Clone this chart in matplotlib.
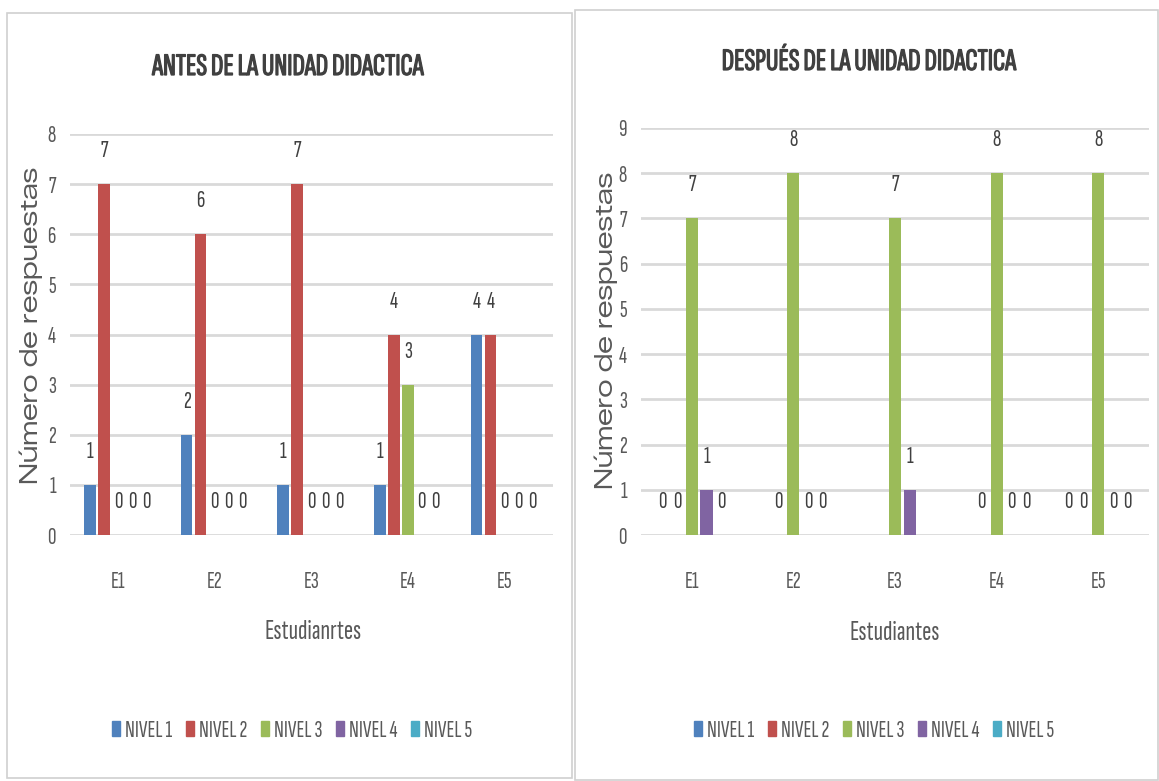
import numpy as np
import matplotlib
matplotlib.use("Agg")
from matplotlib import pyplot as plt
from matplotlib.patches import Rectangle, Patch
from matplotlib import patheffects

NARROW = ['Sofia Sans Extra Condensed', 'DejaVu Sans']
WIDE = ['Zalando Sans Expanded', 'DejaVu Sans']
plt.rcParams['font.family'] = NARROW

estudiantes = ['E1', 'E2', 'E3', 'E4', 'E5']
niveles = ['NIVEL 1', 'NIVEL 2', 'NIVEL 3', 'NIVEL 4', 'NIVEL 5']
colores = ['#4F81BD', '#C0504D', '#9BBB59', '#8064A2', '#4BACC6']

# antes de la unidad
antes_n1 = [1, 2, 1, 1, 4]
antes_n2 = [7, 6, 7, 4, 4]
antes_n3 = [0, 0, 0, 3, 0]
antes_n4 = [0, 0, 0, 0, 0]
antes_n5 = [0, 0, 0, 0, 0]

# despues de la unidad (nan = celda vacia, sin etiqueta)
nan = np.nan
despues_n1 = [0, nan, nan, nan, 0]
despues_n2 = [0, 0, nan, 0, 0]
despues_n3 = [7, 8, 7, 8, 8]
despues_n4 = [1, 0, 1, 0, 0]
despues_n5 = [0, 0, nan, 0, 0]

W, H = 1159, 781
fig = plt.figure(figsize=(W / 100, H / 100), dpi=100)

GRIS = '#595959'
OSCURO = '#404040'
GRID = '#D9D9D9'


def px(x, y):
    return x / W, 1 - y / H


# marcos de los dos graficos
for x0, y0, x1, y1 in [(7, 13, 572, 778), (575, 10, 1158, 780)]:
    fig.add_artist(Rectangle((x0 / W, 1 - y1 / H), (x1 - x0) / W, (y1 - y0) / H,
                             transform=fig.transFigure, fill=False,
                             edgecolor='#D0D0D0', linewidth=1.2))


def grafico(rect, series, ymax, titulo, tpos, xlabel, xlpos, ylpos, legpos):
    ax = fig.add_axes(rect)
    x = np.arange(len(estudiantes))
    paso = 0.145
    ancho = 0.12
    for i, vals in enumerate(series):
        vals = np.array(vals, dtype=float)
        pos = x + (i - 2) * paso
        ax.bar(pos, np.nan_to_num(vals), width=ancho, color=colores[i],
               label=niveles[i], zorder=3)
        for xp, v in zip(pos, vals):
            if np.isnan(v):
                continue
            ax.annotate('%d' % v, (xp, v), xytext=(0, 33),
                        textcoords='offset pixels', ha='center', va='center',
                        fontsize=17, color=OSCURO)
    ax.set_xlim(-0.5, len(estudiantes) - 0.5)
    ax.set_ylim(0, ymax)
    ax.set_yticks(range(ymax + 1))
    ax.set_xticks(x)
    ax.set_xticklabels(estudiantes)
    ax.yaxis.grid(True, color=GRID, linewidth=2, zorder=0)
    ax.set_axisbelow(True)
    for s in ax.spines.values():
        s.set_visible(False)
    ax.tick_params(axis='both', length=0, labelsize=17, colors=GRIS)
    ax.tick_params(axis='y', pad=10)
    ax.tick_params(axis='x', pad=26)

    fig.text(*px(*tpos), titulo, ha='center', va='center', fontsize=22.5,
             color=OSCURO,
             path_effects=[patheffects.withStroke(linewidth=0.9, foreground=OSCURO)])
    fig.text(*px(*xlpos), xlabel, ha='center', va='center', fontsize=20,
             color=GRIS)
    fig.text(*px(*ylpos), 'Número de respuestas', ha='center', va='center',
             rotation=90, fontsize=18, color=GRIS, family=WIDE)

    handles = [Patch(color=c) for c in colores]
    fig.legend(handles, niveles, loc='center', bbox_to_anchor=px(*legpos),
               ncol=5, frameon=False, fontsize=17, handlelength=0.33,
               handleheight=0.6, handletextpad=0.2, columnspacing=0.6,
               labelcolor=GRIS)
    return ax


grafico([69.7 / W, 1 - 535 / H, 483 / W, 401 / H],
        [antes_n1, antes_n2, antes_n3, antes_n4, antes_n5], 8,
        'ANTES DE LA UNIDAD DIDACTICA', (288, 67), 'Estudianrtes', (313, 632),
        (31, 325), (292, 731))

grafico([641 / W, 1 - 535 / H, 508 / W, 407 / H],
        [despues_n1, despues_n2, despues_n3, despues_n4, despues_n5], 9,
        'DESPUÉS DE LA UNIDAD DIDACTICA', (869, 62), 'Estudiantes', (895, 633),
        (606, 330), (874, 731))

plt.savefig('out.png', dpi=100)
